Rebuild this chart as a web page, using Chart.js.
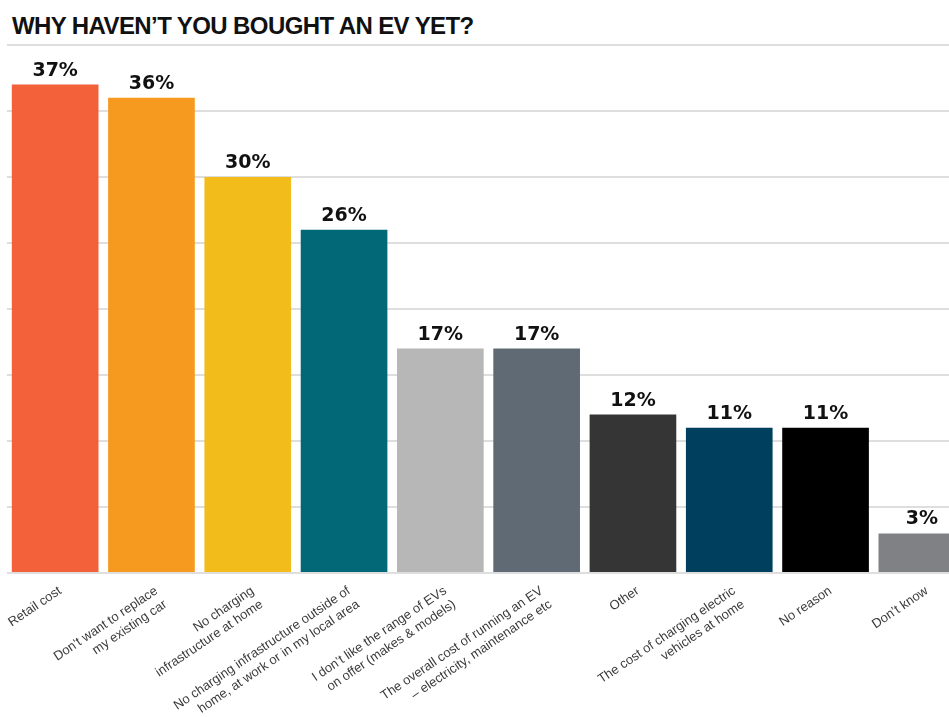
<!DOCTYPE html>
<html>
<head>
<meta charset="utf-8">
<script src="https://cdn.jsdelivr.net/npm/chart.js@4"></script>
<style>
  html, body { margin: 0; padding: 0; background: #fff; overflow: hidden; }
  #wrap { position: relative; width: 949px; height: 717px; overflow: hidden; }
  #title {
    position: absolute; left: 12px; top: 12px; margin: 0;
    font-family: "Liberation Sans", Arial, sans-serif; font-weight: bold; font-size: 24px;
    color: #111; letter-spacing: -0.6px; white-space: nowrap; line-height: 28px;
  }
  #chart { position: absolute; left: 0; top: 0; }
</style>
</head>
<body>
<div id="wrap">
  <h1 id="title">WHY HAVEN’T YOU BOUGHT AN EV YET?</h1>
  <canvas id="chart" width="970" height="717"></canvas>
</div>
<script>
const reasons = [
  'Retail cost',
  ['Don’t want to replace', 'my existing car'],
  ['No charging', 'infrastructure at home'],
  ['No charging infrastructure outside of', 'home, at work or in my local area'],
  ['I don’t like the range of EVs', 'on offer (makes & models)'],
  ['The overall cost of running an EV', '– electricity, maintenance etc'],
  'Other',
  ['The cost of charging electric', 'vehicles at home'],
  'No reason',
  'Don’t know'
];
const shares = [37, 36, 30, 26, 17, 17, 12, 11, 11, 3];
const barColours = ['#F26139', '#F6991F', '#F2BC1A', '#026878', '#B7B7B7',
                    '#606A74', '#353535', '#003F5D', '#000000', '#808184'];

// percentage above each bar
const valueLabels = {
  id: 'valueLabels',
  afterDatasetsDraw(chart) {
    const ctx = chart.ctx;
    const meta = chart.getDatasetMeta(0);
    ctx.save();
    ctx.font = 'bold 19px "DejaVu Sans", sans-serif';
    ctx.fillStyle = '#111';
    ctx.textAlign = 'center';
    ctx.textBaseline = 'alphabetic';
    meta.data.forEach((bar, i) => {
      ctx.fillText(shares[i] + '%', bar.x, bar.y - 9);
    });
    ctx.restore();
  }
};

new Chart(document.getElementById('chart'), {
  type: 'bar',
  data: {
    labels: reasons,
    datasets: [{
      data: shares,
      backgroundColor: barColours,
      borderWidth: 0,
      categoryPercentage: 1,
      barPercentage: 0.9
    }]
  },
  options: {
    responsive: false,
    animation: false,
    layout: { padding: { left: 7, right: 0, top: 45, bottom: 0 } },
    plugins: {
      legend: { display: false },
      tooltip: { enabled: false }
    },
    scales: {
      x: {
        grid: { display: false },
        border: { display: false },
        ticks: {
          autoSkip: false,
          minRotation: 34,
          maxRotation: 34,
          padding: 2,
          labelOffset: 5,
          color: '#3a3a3a',
          font: { family: '"Liberation Sans", Arial, sans-serif', size: 13, lineHeight: 1.25 }
        },
        afterFit(scale) {
          scale.height = 144;
          scale.paddingLeft = 0;
          scale.paddingRight = 0;
        }
      },
      y: {
        min: 0,
        max: 40,
        ticks: { display: false, stepSize: 5 },
        grid: { color: '#dedede', lineWidth: 2, drawTicks: false },
        border: { display: false }
      }
    }
  },
  plugins: [valueLabels]
});
</script>
</body>
</html>
